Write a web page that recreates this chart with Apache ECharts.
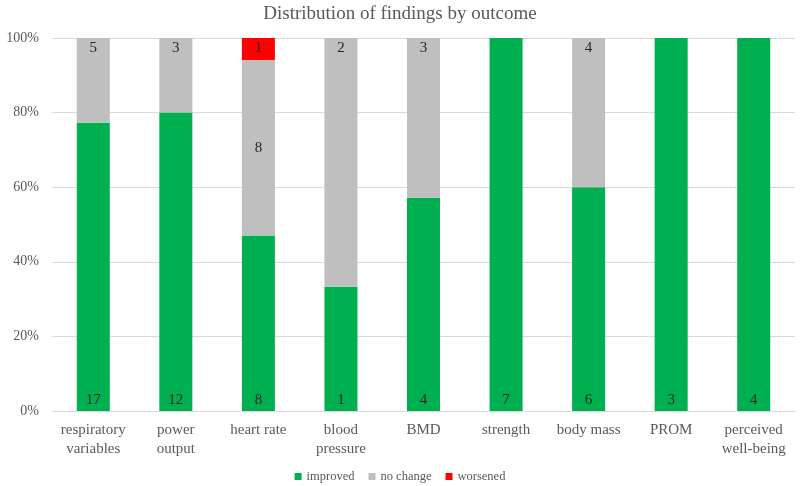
<!DOCTYPE html>
<html>
<head>
<meta charset="utf-8">
<script src="https://cdn.jsdelivr.net/npm/echarts@6/dist/echarts.min.js"></script>
<style>html,body{margin:0;padding:0;background:#fff}#c{width:800px;height:486px}</style>
</head>
<body>
<div id="c"></div>
<script>
const categories = ["respiratory\nvariables", "power\noutput", "heart rate", "blood\npressure", "BMD", "strength", "body mass", "PROM", "perceived\nwell-being"];
const improved = [17, 12, 8, 1, 4, 7, 6, 3, 4];
const noChange = [5, 3, 8, 2, 3, 0, 4, 0, 0];
const worsened = [0, 0, 1, 0, 0, 0, 0, 0, 0];
const yTicks = [0, 20, 40, 60, 80, 100];

const totals = improved.map((v, i) => v + noChange[i] + worsened[i]);
function pct(arr, key) {
  return arr.map((v, i) => ({ value: v / totals[i] * 100, count: v,
    label: (key === 'nc' && categories[i] === 'heart rate') ? { position: 'inside' } : undefined }));
}
const font = 'Liberation Serif, Times New Roman, serif';
const lbl = (pos) => ({
  show: true, position: pos, fontFamily: font, fontSize: 15, color: '#262626', distance: 3,
  formatter: p => p.data.count ? String(p.data.count) : ''
});
const chart = echarts.init(document.getElementById('c'));
chart.setOption({
  animation: false,
  title: { text: 'Distribution of findings by outcome', left: 'center', top: 0,
    textStyle: { fontFamily: font, fontSize: 19, fontWeight: 'normal', color: '#595959' } },
  legend: { top: 465, left: 'center', itemWidth: 7, itemHeight: 7, itemGap: 14,
    icon: 'rect', textStyle: { fontFamily: font, fontSize: 12.5, color: '#595959' },
    data: ['improved', 'no change', 'worsened'] },
  grid: { left: 52, right: 5, top: 38, bottom: 75 },
  xAxis: { type: 'category', data: categories,
    axisLine: { lineStyle: { color: '#d9d9d9' } }, axisTick: { show: false },
    axisLabel: { fontFamily: font, fontSize: 15, color: '#595959', lineHeight: 19, margin: 10, interval: 0 } },
  yAxis: { type: 'value', min: 0, max: 100, interval: 20,
    axisLine: { show: false }, axisTick: { show: false },
    splitLine: { lineStyle: { color: '#d9d9d9' } },
    axisLabel: { fontFamily: font, fontSize: 14, color: '#595959', margin: 13,
      formatter: v => yTicks.includes(v) ? v + '%' : '' } },
  series: [
    { name: 'improved', type: 'bar', stack: 's', barWidth: '40%', itemStyle: { color: '#00b050' },
      label: lbl('insideBottom'), data: pct(improved, 'im') },
    { name: 'no change', type: 'bar', stack: 's', itemStyle: { color: '#bfbfbf' },
      label: lbl('insideTop'), data: pct(noChange, 'nc') },
    { name: 'worsened', type: 'bar', stack: 's', itemStyle: { color: '#ff0000' },
      label: lbl('insideTop'), data: pct(worsened, 'w') }
  ]
});
</script>
</body>
</html>
